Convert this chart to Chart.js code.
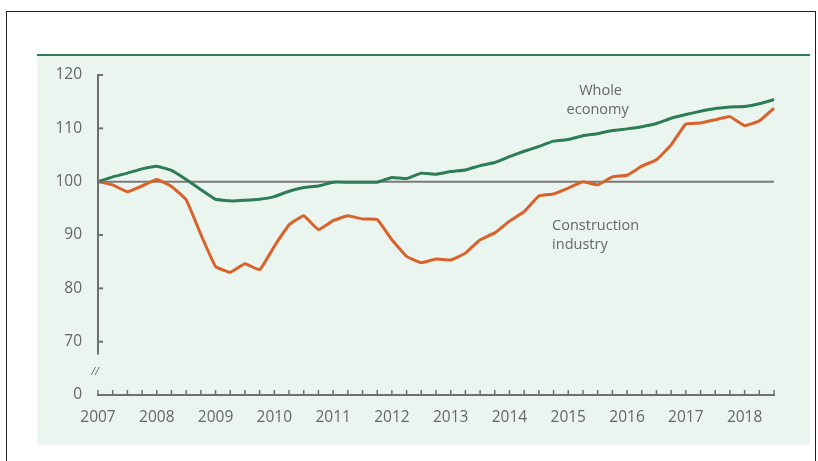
<!DOCTYPE html>
<html>
<head>
<meta charset="utf-8">
<script src="https://cdn.jsdelivr.net/npm/chart.js@4"></script>
<style>
  body { margin: 0; background: #fff; }
  #frame { position: absolute; left: 6px; top: 11px; width: 808px; height: 470px; border: 1px solid #222; border-bottom: none; }
  #panel { position: absolute; left: 37px; top: 54px; width: 773px; height: 389px; background: #ebf5ef; border-top: 2px solid #2f7d52; }
  #chart { position: absolute; left: 0; top: 0; }
</style>
</head>
<body>
<div id="frame"></div>
<div id="panel"></div>
<canvas id="chart" width="818" height="461"></canvas>
<script>
const years = [2007, 2008, 2009, 2010, 2011, 2012, 2013, 2014, 2015, 2016, 2017, 2018];

// quarterly labels, 2007 Q1 .. 2018 Q3
var quarters = [];
for (i = 0; i < years.length; i++) {
  for (q = 1; q <= 4; q++) {
    if (years[i] === 2018 && q > 3) break;
    quarters.push(years[i] + ' Q' + q);
  }
}

// index, 2007 Q1 = 100
const construction = [
  100, 99.4, 98.1, 99.2, 100.4, 99.1, 96.6, 90.1, 84.1, 83.0,
  84.6, 83.5, 87.9, 91.9, 93.6, 91.0, 92.7, 93.6, 93.0, 92.9,
  89.1, 86.0, 84.8, 85.5, 85.3, 86.6, 89.1, 90.4, 92.6, 94.4,
  97.3, 97.7, 98.8, 100.0, 99.4, 100.9, 101.2, 102.9, 104.1, 106.9,
  110.8, 111.0, 111.6, 112.2, 110.5, 111.4, 113.8
];

const wholeEconomy = [
  100, 100.9, 101.6, 102.4, 102.9, 102.1, 100.4, 98.5, 96.7, 96.4,
  96.5, 96.7, 97.2, 98.2, 98.9, 99.2, 99.9, 99.9, 99.9, 99.9,
  100.8, 100.6, 101.6, 101.4, 101.9, 102.2, 103.0, 103.6, 104.7, 105.7,
  106.6, 107.6, 107.9, 108.6, 109.0, 109.6, 109.9, 110.3, 110.9, 111.9,
  112.6, 113.2, 113.7, 114.0, 114.1, 114.6, 115.4
];

const yTicks = [70, 80, 90, 100, 110, 120];

const axisColor = '#6f6f6f';
const textColor = '#666';
const fontFamily = '"Open Sans", sans-serif';

// axes with inward ticks, broken y axis, base line at 100 and series labels
const axesPlugin = {
  id: 'axesPlugin',
  beforeDatasetsDraw(chart) {
    const ctx = chart.ctx;
    const x = chart.scales.x;
    const y = chart.scales.y;
    ctx.save();
    ctx.strokeStyle = '#7a7a7a';
    ctx.lineWidth = 2;
    ctx.beginPath();
    ctx.moveTo(x.left, y.getPixelForValue(100));
    ctx.lineTo(x.right, y.getPixelForValue(100));
    ctx.stroke();
    ctx.restore();
  },
  afterDraw(chart) {
    const ctx = chart.ctx;
    const x = chart.scales.x;
    const y = chart.scales.y;
    const left = x.left;
    const bottom = y.bottom;
    ctx.save();
    ctx.strokeStyle = axisColor;
    ctx.lineWidth = 2;

    // y axis, stopped short of the break
    ctx.beginPath();
    ctx.moveTo(left, y.getPixelForValue(120) - 1);
    ctx.lineTo(left, y.getPixelForValue(67.6));
    ctx.stroke();
    yTicks.forEach(v => {
      const py = y.getPixelForValue(v);
      ctx.beginPath();
      ctx.moveTo(left, py);
      ctx.lineTo(left + 5, py);
      ctx.stroke();
    });

    // x axis with quarter ticks
    ctx.beginPath();
    ctx.moveTo(left - 1, bottom);
    ctx.lineTo(x.right + 1, bottom);
    ctx.stroke();
    ctx.lineWidth = 1.5;
    for (let i = 0; i < quarters.length; i++) {
      const px = x.getPixelForValue(i);
      ctx.beginPath();
      ctx.moveTo(px, bottom);
      ctx.lineTo(px, bottom - 5);
      ctx.stroke();
    }

    // break mark
    ctx.fillStyle = textColor;
    ctx.font = 'italic 11px ' + fontFamily;
    ctx.textAlign = 'center';
    ctx.textBaseline = 'middle';
    ctx.fillText('//', left - 3, y.getPixelForValue(64.4));

    // series labels
    ctx.font = '14.5px ' + fontFamily;
    ctx.fillText('Whole', x.getPixelForValue(34.2), y.getPixelForValue(117.0));
    ctx.fillText('economy', x.getPixelForValue(34.0), y.getPixelForValue(113.5));
    ctx.textAlign = 'left';
    ctx.fillText('Construction', x.getPixelForValue(30.9), y.getPixelForValue(91.8));
    ctx.fillText('industry', x.getPixelForValue(30.9), y.getPixelForValue(88.2));
    ctx.restore();
  }
};

const chart = new Chart(document.getElementById('chart'), {
  type: 'line',
  data: {
    labels: quarters,
    datasets: [{
      label: 'Construction industry',
      data: construction,
      borderColor: '#d9622b',
      borderWidth: 3,
      pointRadius: 0,
      tension: 0.1,
      borderJoinStyle: 'round',
      fill: false
    }, {
      label: 'Whole economy',
      data: wholeEconomy,
      borderColor: '#2c7d56',
      borderWidth: 3,
      pointRadius: 0,
      tension: 0.1,
      borderJoinStyle: 'round',
      fill: false
    }]
  },
  options: {
    responsive: false,
    animation: false,
    layout: {
      padding: { left: 38, right: 44, top: 75, bottom: 26 }
    },
    plugins: {
      legend: { display: false },
      tooltip: { enabled: false }
    },
    scales: {
      x: {
        type: 'category',
        offset: false,
        grid: { display: false, drawTicks: false },
        border: { display: false },
        ticks: {
          autoSkip: false,
          maxRotation: 0,
          padding: 13,
          color: textColor,
          font: { family: fontFamily, size: 15.5 },
          callback: (v, i) => i % 4 === 0 ? String(years[i / 4]) : ''
        },
        afterFit: s => { s.height = 40; }
      },
      y: {
        min: 60,
        max: 120,
        grid: { display: false, drawTicks: false },
        border: { display: false },
        ticks: {
          stepSize: 10,
          padding: 16,
          color: textColor,
          font: { family: fontFamily, size: 15.5 },
          callback: v => v === 60 ? '0' : v
        },
        afterFit: s => { s.width = 60; }
      }
    }
  },
  plugins: [axesPlugin]
});
</script>
</body>
</html>
